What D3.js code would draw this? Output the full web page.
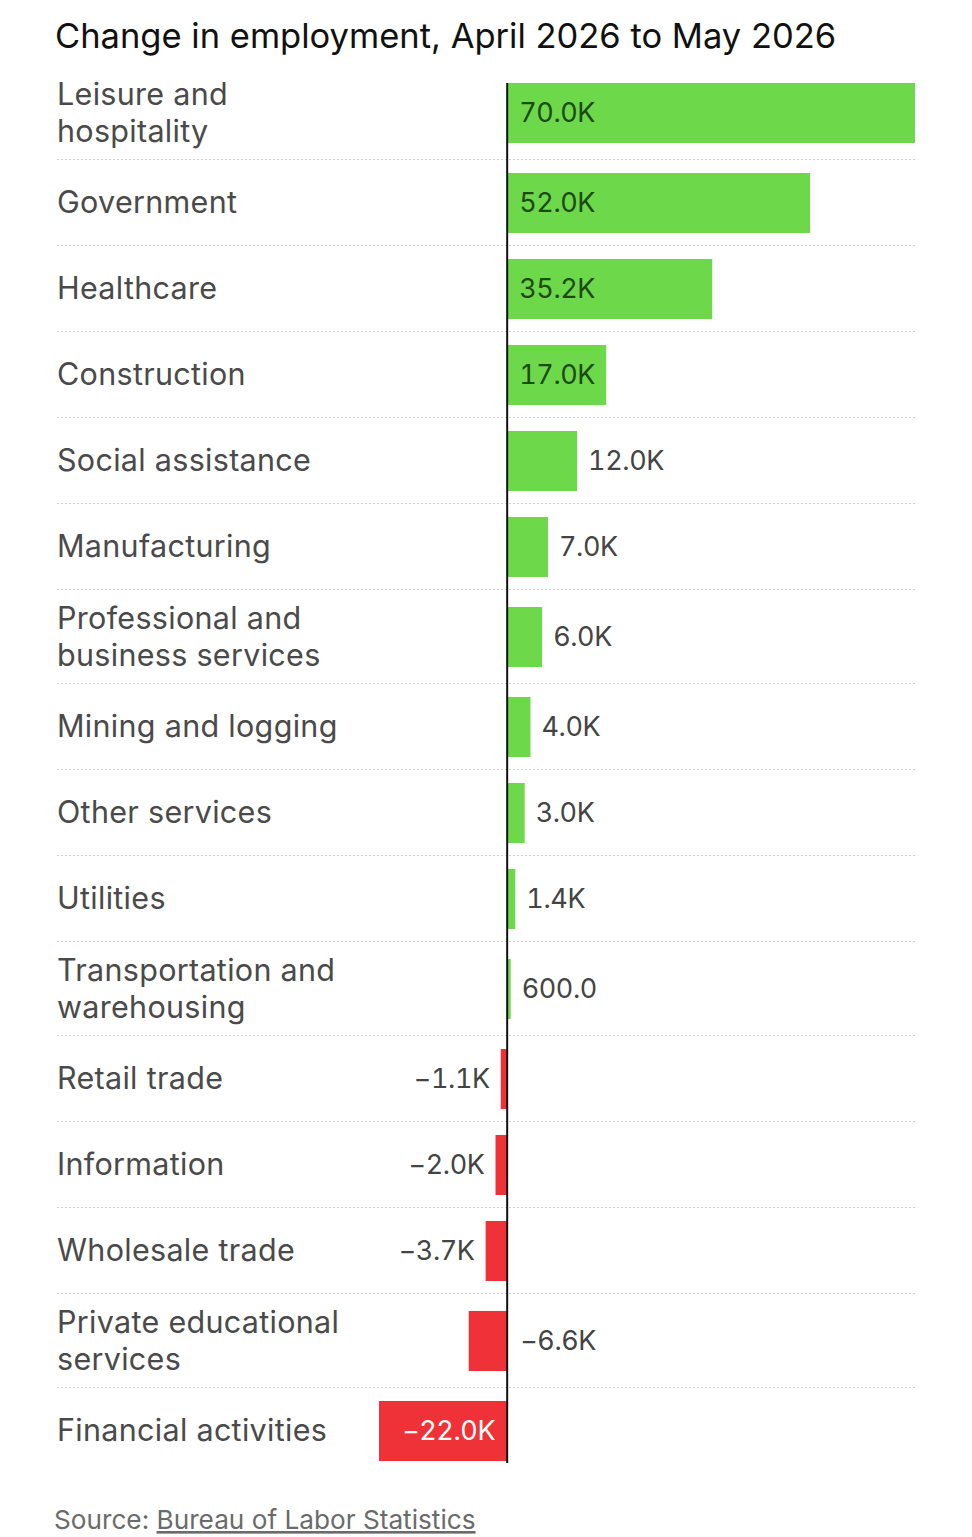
<!DOCTYPE html>
<html>
<head>
<meta charset="utf-8">
<script src="https://cdn.jsdelivr.net/npm/d3@7"></script>
<style>
  html, body { margin: 0; padding: 0; background: #fff; }
  svg { display: block; }
  text { font-family: Inter, "Noto Sans", sans-serif; }
  .val { font-variant-numeric: tabular-nums; }
</style>
</head>
<body>
<svg id="chart" width="972" height="1537"></svg>
<script>
const categories = [
  ["Leisure and", "hospitality"],
  ["Government"],
  ["Healthcare"],
  ["Construction"],
  ["Social assistance"],
  ["Manufacturing"],
  ["Professional and", "business services"],
  ["Mining and logging"],
  ["Other services"],
  ["Utilities"],
  ["Transportation and", "warehousing"],
  ["Retail trade"],
  ["Information"],
  ["Wholesale trade"],
  ["Private educational", "services"],
  ["Financial activities"]
];
const values = [70000, 52000, 35200, 17000, 12000, 7000, 6000, 4000, 3000, 1400, 600, -1100, -2000, -3700, -6600, -22000];
const valueLabels = ["70.0K", "52.0K", "35.2K", "17.0K", "12.0K", "7.0K", "6.0K", "4.0K", "3.0K", "1.4K", "600.0", "\u22121.1K", "\u22122.0K", "\u22123.7K", "\u22126.6K", "\u221222.0K"];
const titleText = "Change in employment, April 2026 to May 2026";
const sourceLabel = "Source: ";
const sourceLink = "Bureau of Labor Statistics";

const svg = d3.select("#chart");
const left = 57, right = 915;
const top0 = 65.5;
const barH = 60;
const lineH = 37;

const x = d3.scaleLinear().domain([-22000, 70000]).range([379, 915]);

// row layout from label line counts
const rows = [];
let yCur = top0;
categories.forEach((c, i) => {
  const h = c.length > 1 ? 94 : 86;
  rows.push({ lines: c, value: values[i], label: valueLabels[i], y: yCur, h: h });
  yCur += h;
});

svg.append("text")
  .attr("x", 55).attr("y", 48)
  .attr("font-size", 34.5).attr("fill", "#111")
  .text(titleText);

const g = svg.append("g");

// separators
g.selectAll("line.sep").data(rows.slice(0, -1)).join("line")
  .attr("class", "sep")
  .attr("x1", left).attr("x2", right)
  .attr("y1", d => Math.round(d.y + d.h) - 0.5).attr("y2", d => Math.round(d.y + d.h) - 0.5)
  .attr("stroke", "#cfcfcf").attr("stroke-width", 1.2)
  .attr("stroke-dasharray", "2,2");

// bars
g.selectAll("rect.bar").data(rows).join("rect")
  .attr("class", "bar")
  .attr("x", d => Math.min(x(0), x(d.value)))
  .attr("width", d => Math.abs(x(d.value) - x(0)))
  .attr("y", d => Math.round(d.y + (d.h - barH) / 2))
  .attr("height", barH)
  .attr("fill", d => d.value >= 0 ? "#6cd84a" : "#ee3237");

// category labels (one text per line)
rows.forEach(d => {
  const cy = d.y + d.h / 2;
  const n = d.lines.length;
  d.lines.forEach((ln, k) => {
    g.append("text")
      .attr("x", left)
      .attr("y", cy + (k - (n - 1) / 2) * lineH)
      .attr("dy", "0.35em")
      .attr("font-size", 30.5).attr("fill", "#4a4a4a")
      .attr("letter-spacing", 0.3)
      .text(ln);
  });
});

// value labels
g.selectAll("text.val").data(rows).join("text")
  .attr("class", "val")
  .attr("font-size", 27)
  .attr("letter-spacing", -0.4)
  .attr("dy", "0.35em")
  .attr("y", d => d.y + d.h / 2)
  .each(function(d) {
    const el = d3.select(this);
    const w = Math.abs(x(d.value) - x(0));
    if (d.value >= 0) {
      if (w > 90) {
        el.attr("x", x(0) + 12).attr("text-anchor", "start").attr("fill", "#1d4a12");
      } else {
        el.attr("x", x(d.value) + 11).attr("text-anchor", "start").attr("fill", "#444");
      }
    } else {
      if (w > 90) {
        el.attr("x", x(0) - 12).attr("text-anchor", "end").attr("fill", "#fff");
      } else if (Math.abs(d.value) > 5000) {
        el.attr("x", x(0) + 13).attr("text-anchor", "start").attr("fill", "#444");
      } else {
        el.attr("x", x(d.value) - 11).attr("text-anchor", "end").attr("fill", "#444");
      }
    }
  })
  .text(d => d.label);

// zero line
const lastRow = rows[rows.length - 1];
g.append("line")
  .attr("x1", x(0)).attr("x2", x(0))
  .attr("y1", Math.round(rows[0].y + (rows[0].h - barH) / 2))
  .attr("y2", Math.round(lastRow.y + (lastRow.h + barH) / 2) + 2)
  .attr("stroke", "#111").attr("stroke-width", 2);

// source
const src = svg.append("text")
  .attr("x", 54).attr("y", 1529)
  .attr("font-size", 26.2).attr("fill", "#6b6b6b");
src.append("tspan").text(sourceLabel);
src.append("tspan").attr("text-decoration", "underline").text(sourceLink);
</script>
</body>
</html>
